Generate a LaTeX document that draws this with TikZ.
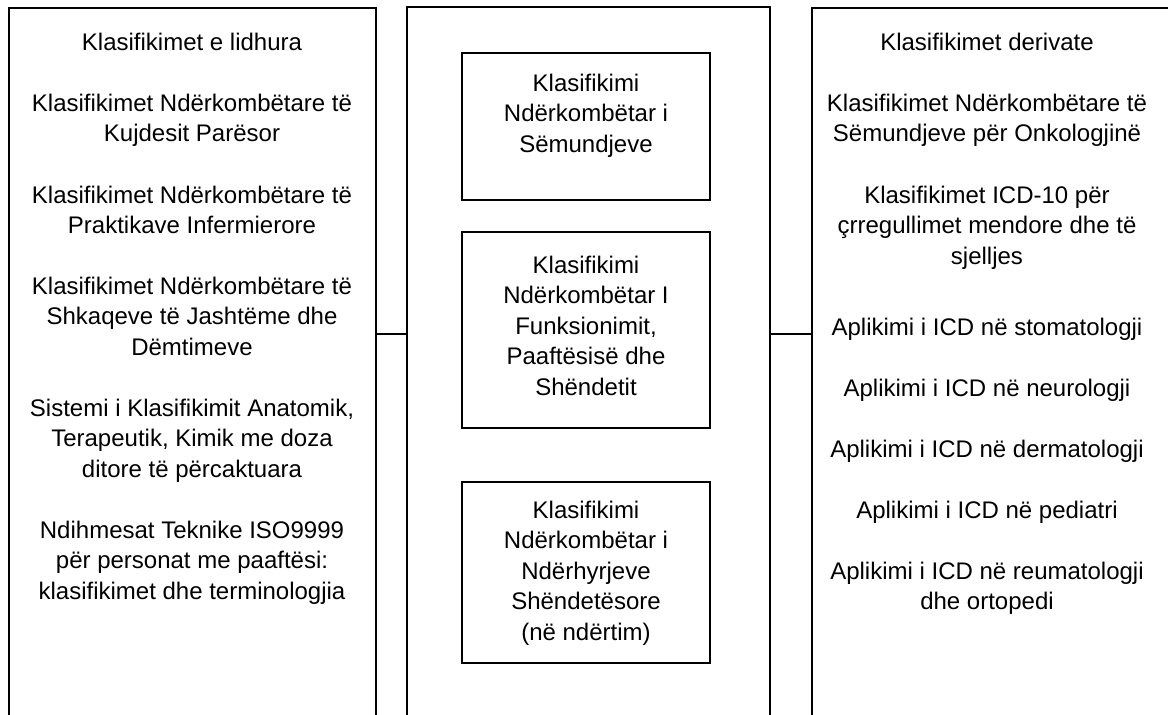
\documentclass[tikz,border=0pt]{standalone}
\usepackage{fontspec}
\setmainfont{Liberation Sans}
\begin{document}
\begin{tikzpicture}[x=1pt,y=-1pt,
  frame/.style={draw,line width=1.5pt,inner sep=0pt},
  col/.style={frame,minimum width=#1,minimum height=716pt},
  inner/.style={frame,minimum width=248pt},
  txt/.style={align=center,inner sep=0pt,anchor=base,font=\fontsize{24}{30.5}\selectfont},
  conn/.style={line width=1.5pt}]
\useasboundingbox (0,0) rectangle (1168,715);
\clip (0,0) rectangle (1168,715);
% columns
\node[col=367pt] (L) at (192.5,366) {};
\node[col=363pt] (M) at (588.5,365) {};
\node[col=370pt] (R) at (997,366) {};
% inner boxes
\node[inner,minimum height=147pt] (B1) at (586,126.5) {};
\node[inner,minimum height=196pt] (B2) at (586,330) {};
\node[inner,minimum height=181pt] (B3) at (586,572.5) {};
% connectors
\coordinate (cl) at (0,334);
\coordinate (cr) at (0,334);
\draw[conn] (L.east |- cl) -- (M.west |- cl);
\draw[conn] (M.east |- cr) -- (R.west |- cr);
% left texts (anchor = baseline of last line)
\node[txt] (l0) at (192,50) {Klasifikimet e lidhura};
\node[txt] (l1) at (192,141.5) {Klasifikimet Ndërkombëtare të\\Kujdesit Parësor};
\node[txt] (l2) at (192,233.5) {Klasifikimet Ndërkombëtare të\\Praktikave Infermierore};
\node[txt] (l3) at (192,355) {Klasifikimet Ndërkombëtare të\\Shkaqeve të Jashtëme dhe\\Dëmtimeve};
\node[txt] (l4) at (192,477) {Sistemi i Klasifikimit Anatomik,\\Terapeutik, Kimik me doza\\ditore të përcaktuara};
\node[txt] (l5) at (192,599) {Ndihmesat Teknike ISO9999\\për personat me paaftësi:\\klasifikimet dhe terminologjia};
% middle texts
\node[txt] (m1) at (586,152) {Klasifikimi\\Ndërkombëtar i\\Sëmundjeve};
\node[txt] (m2) at (586,395) {Klasifikimi\\Ndërkombëtar I\\Funksionimit,\\Paaftësisë dhe\\Shëndetit};
\node[txt] (m3) at (586,640) {Klasifikimi\\Ndërkombëtar i\\Ndërhyrjeve\\Shëndetësore\\(në ndërtim)};
% right texts
\node[txt] (r0) at (987,50) {Klasifikimet derivate};
\node[txt] (r1) at (987,141.5) {Klasifikimet Ndërkombëtare të\\Sëmundjeve për Onkologjinë};
\node[txt] (r2) at (987,264) {Klasifikimet ICD-10 për\\çrregullimet mendore dhe të\\sjelljes};
\node[txt] (r3) at (987,335) {Aplikimi i ICD në stomatologji};
\node[txt] (r4) at (987,396) {Aplikimi i ICD në neurologji};
\node[txt] (r5) at (987,457) {Aplikimi i ICD në dermatologji};
\node[txt] (r6) at (987,518) {Aplikimi i ICD në pediatri};
\node[txt] (r7) at (987,609.5) {Aplikimi i ICD në reumatologji\\dhe ortopedi};
\end{tikzpicture}
\end{document}
